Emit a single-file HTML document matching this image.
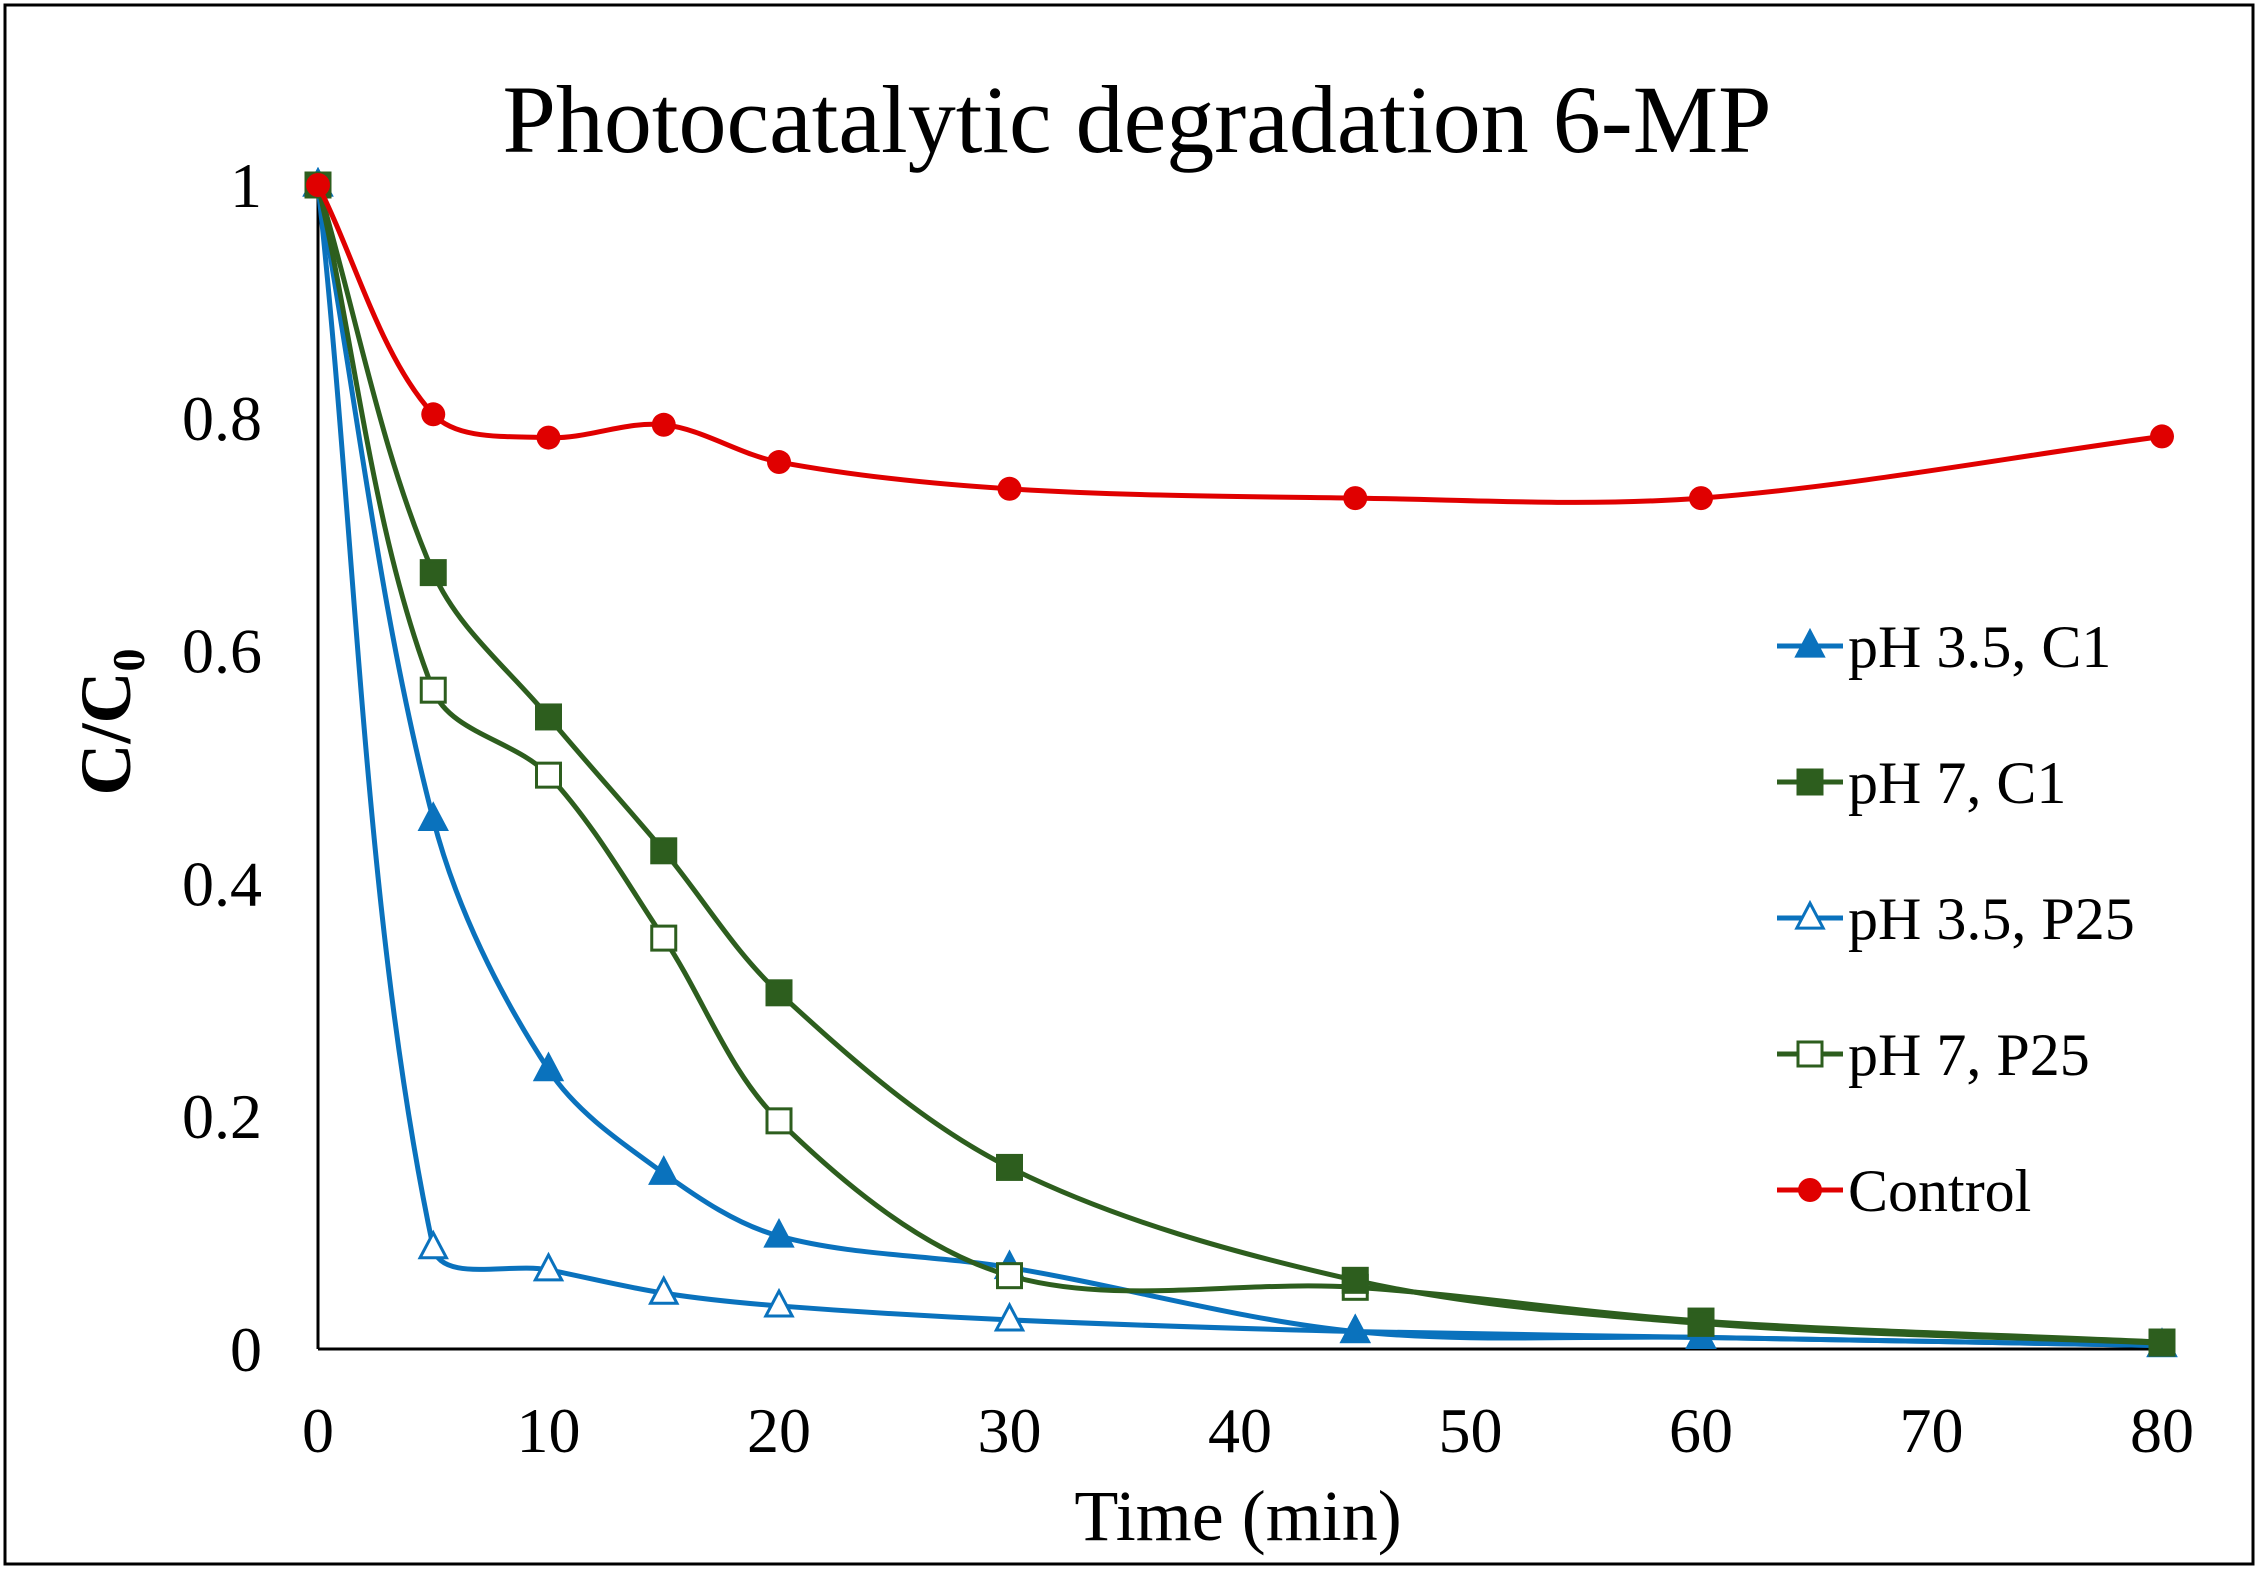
<!DOCTYPE html>
<html><head><meta charset="utf-8"><style>
html,body{margin:0;padding:0;background:#fff}
svg{display:block}
text{font-family:"Liberation Serif",serif;fill:#000}
</style></head><body>
<svg id="chart" width="2259" height="1572" viewBox="0 0 2259 1572" xmlns="http://www.w3.org/2000/svg">
<rect x="5" y="5" width="2248" height="1559" fill="#fff" stroke="#000" stroke-width="3"/>
<text x="1137" y="152" font-size="96" text-anchor="middle">Photocatalytic degradation 6-MP</text>
<g id="axes"></g>
<g id="series"></g>
<g id="legend"></g>
<text x="1238" y="1540" font-size="72" text-anchor="middle">Time (min)</text>
<text transform="translate(130,722) rotate(-90)" font-size="72" font-weight="bold" text-anchor="middle">C/C<tspan font-size="46" dy="14">0</tspan></text>
</svg>
<script>
const times = [0, 5, 10, 15, 20, 30, 45, 60, 80];
const ph35C1 = [1, 0.455, 0.240, 0.151, 0.097, 0.070, 0.015, 0.010, 0.003];
const ph7C1 = [1, 0.667, 0.543, 0.428, 0.306, 0.156, 0.059, 0.022, 0.005];
const ph35P25 = [1, 0.087, 0.068, 0.048, 0.037, 0.025, 0.015, 0.010, 0.003];
const ph7P25 = [1, 0.566, 0.493, 0.353, 0.196, 0.063, 0.053, 0.024, 0.006];
const control = [1, 0.803, 0.783, 0.794, 0.762, 0.739, 0.731, 0.731, 0.784];
const xTicks = [0, 10, 20, 30, 40, 50, 60, 70, 80];
const yTicks = [0, 0.2, 0.4, 0.6, 0.8, 1];
const yTickLabels = ["0", "0.2", "0.4", "0.6", "0.8", "1"];
const seriesNames = ["pH 3.5, C1", "pH 7, C1", "pH 3.5, P25", "pH 7, P25", "Control"];

const NS = "http://www.w3.org/2000/svg";
const X0 = 318, X1 = 2162, Y0 = 1349, Y1 = 185;
const xs = v => X0 + (v / 80) * (X1 - X0);
const ys = v => Y0 - v * (Y0 - Y1);
function mk(tag, attrs, parent) {
  const e = document.createElementNS(NS, tag);
  for (const k in attrs) e.setAttribute(k, attrs[k]);
  parent.appendChild(e);
  return e;
}
const axes = document.getElementById('axes');
let a = mk('line', {x1: X0, y1: Y1 - 5, x2: X0, y2: Y0, stroke: '#000', 'stroke-width': 3}, axes);


a = mk('line', {x1: X0, y1: Y0, x2: X1 + 5, y2: Y0, stroke: '#000', 'stroke-width': 3}, axes);


xTicks.forEach(t => {
  const e = mk('text', {x: xs(t), y: 1452, 'font-size': 64, 'text-anchor': 'middle'}, axes);
  e.textContent = t;
  
  
});
yTicks.forEach((t, i) => {
  const e = mk('text', {x: 262, y: ys(t) + 22, 'font-size': 64, 'text-anchor': 'end'}, axes);
  e.textContent = yTickLabels[i];
  
  
});

function smoothPath(vals) {
  const p = times.map((t, i) => [xs(t), ys(vals[i])]);
  const dist = (u, v) => Math.hypot(u[0] - v[0], u[1] - v[1]);
  let d = `M${p[0][0]},${p[0][1]}`;
  for (let i = 0; i < p.length - 1; i++) {
    const p0 = p[i - 1] || p[i], p1 = p[i], p2 = p[i + 1], p3 = p[i + 2] || p[i + 1];
    const dA = dist(p0, p1), dB = dist(p1, p2), dC = dist(p2, p3);
    const f1 = (dA + dB) > 0 ? dB / (dA + dB) / 3 : 0;
    const f2 = (dB + dC) > 0 ? dB / (dB + dC) / 3 : 0;
    const c1 = [p1[0] + (p2[0] - p0[0]) * f1, p1[1] + (p2[1] - p0[1]) * f1];
    const c2 = [p2[0] - (p3[0] - p1[0]) * f2, p2[1] - (p3[1] - p1[1]) * f2];
    d += ` C${c1[0]},${c1[1]} ${c2[0]},${c2[1]} ${p2[0]},${p2[1]}`;
  }
  return d;
}
function marker(parent, type, cx, cy, color, s) {
  let e;
  if (type === 'tri' || type === 'otri') {
    e = mk('polygon', {points: `${cx},${cy - s * 0.62} ${cx - s * 0.55},${cy + s * 0.42} ${cx + s * 0.55},${cy + s * 0.42}`,
      fill: type === 'tri' ? color : '#fff', stroke: color, 'stroke-width': 3}, parent);
  } else if (type === 'sq' || type === 'osq') {
    e = mk('rect', {x: cx - s / 2, y: cy - s / 2, width: s, height: s,
      fill: type === 'sq' ? color : '#fff', stroke: color, 'stroke-width': 3}, parent);
  } else {
    e = mk('circle', {cx: cx, cy: cy, r: s / 2, fill: color}, parent);
  }
  return e;
}
const blue = '#0a72bd', green = '#2d5e1e', red = '#e00000';
const defs = [
  {vals: ph35P25, color: blue, m: 'otri', name: 'ph35-p25'},
  {vals: ph35C1, color: blue, m: 'tri', name: 'ph35-c1'},
  {vals: ph7P25, color: green, m: 'osq', name: 'ph7-p25'},
  {vals: ph7C1, color: green, m: 'sq', name: 'ph7-c1'},
  {vals: control, color: red, m: 'circ', name: 'control'}
];
const sg = document.getElementById('series');
defs.forEach(s => {
  const g = mk('g', {}, sg);
  
  
  const path = mk('path', {d: smoothPath(s.vals), fill: 'none', stroke: s.color, 'stroke-width': 5}, g);
  
  
  times.forEach((t, i) => {
    const m = marker(g, s.m, xs(t), ys(s.vals[i]), s.color, 24);
    
    
  });
});
const lg = document.getElementById('legend');
const legendOrder = [
  {color: blue, m: 'tri'}, {color: green, m: 'sq'}, {color: blue, m: 'otri'},
  {color: green, m: 'osq'}, {color: red, m: 'circ'}
];
legendOrder.forEach((l, i) => {
  const y = 646 + i * 136;
  const g = mk('g', {}, lg);
  
  
  mk('line', {x1: 1777, y1: y, x2: 1843, y2: y, stroke: l.color, 'stroke-width': 5}, g);
  marker(g, l.m, 1810, y, l.color, 24);
  const t = mk('text', {x: 1848, y: y + 21, 'font-size': 60}, g);
  t.textContent = seriesNames[i];
});
</script>
</body></html>
